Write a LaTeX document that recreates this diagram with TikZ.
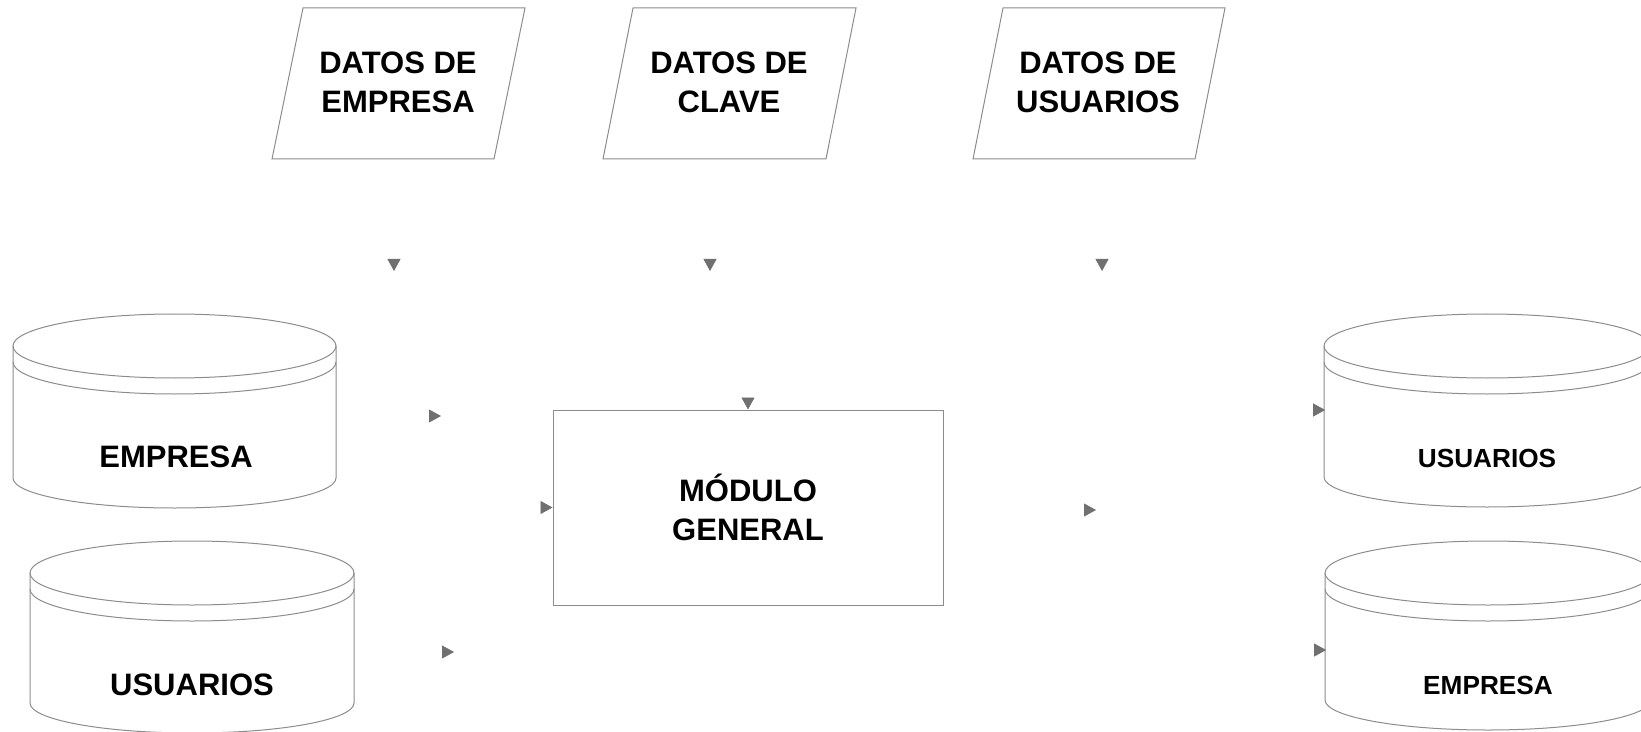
\documentclass[tikz,border=0pt]{standalone}
\usepackage{fontspec}
\setmainfont{Liberation Sans}
\usetikzlibrary{arrows.meta}
\definecolor{linegray}{HTML}{8C8C8C}
\definecolor{tipgray}{HTML}{707070}
\tikzset{
  shapeline/.style={draw=linegray, line width=0.5pt},
  bigtxt/.style={font=\fontsize{15.5}{19.5}\selectfont\bfseries, align=center, inner sep=0pt},
  smalltxt/.style={font=\fontsize{13.1}{16}\selectfont\bfseries, inner sep=0pt},
  ghost/.style={draw=white, line width=0.4pt, -{Triangle[length=6pt,width=6.5pt,color=tipgray,fill=tipgray]}},
  boxnode/.style={draw=linegray, line width=0.5pt, minimum width=195pt, minimum height=97.5pt, inner sep=0pt},
  cylnode/.style={draw=none, inner sep=0pt, minimum width=161.5pt, minimum height=97pt},
}
\newcommand{\dbcyl}[4]{%
  \draw[shapeline] ({#1+#2/2},#3) ellipse [x radius=#2/2, y radius=32];
  \draw[shapeline] (#1,#3) -- (#1,#3+16) arc[start angle=180,end angle=0,x radius=#2/2,y radius=32] -- (#1+#2,#3);
  \draw[shapeline] (#1,#3+16) -- (#1,#4) arc[start angle=180,end angle=0,x radius=#2/2,y radius=30] -- (#1+#2,#3+16);
}
\begin{document}
\begin{tikzpicture}[x=0.5pt,y=-0.5pt]
\useasboundingbox (0,0) rectangle (1641,732);

% input parallelograms
\draw[shapeline] (303,8) -- (525,8) -- (494,159) -- (272,159) -- cycle;
\node[bigtxt] (inE) at (398,82.5) {DATOS DE\\EMPRESA};
\draw[shapeline] (633,8) -- (856,8) -- (826,159) -- (603,159) -- cycle;
\node[bigtxt] (inC) at (729,82.5) {DATOS DE\\CLAVE};
\draw[shapeline] (1003,8) -- (1225,8) -- (1195,159) -- (973,159) -- cycle;
\node[bigtxt] (inU) at (1098,82.5) {DATOS DE\\USUARIOS};

% central module
\node[boxnode, bigtxt, minimum width=195pt, minimum height=97.5pt] (mod) at (748,507.5) {MÓDULO\\GENERAL};

% left cylinders
\dbcyl{13}{323}{346}{478}
\node[cylnode] (cylLE) at (174.5,410) {};
\node[bigtxt] (lblLE) at (176,457) {EMPRESA};
\dbcyl{30}{324}{573}{703}
\node[cylnode] (cylLU) at (192,637) {};
\node[bigtxt] (lblLU) at (192,685) {USUARIOS};

% right cylinders
\dbcyl{1324}{326}{346}{477}
\node[cylnode] (cylRU) at (1487,410) {};
\node[smalltxt] (lblRU) at (1487,458) {USUARIOS};
\dbcyl{1325}{326}{573}{700}
\node[cylnode] (cylRE) at (1488,635) {};
\node[smalltxt] (lblRE) at (1488,685) {EMPRESA};

% arrow ends (only the tips are visible)
\coordinate (s1) at (394,255); \coordinate (t1) at (394,271);
\coordinate (s2) at (710,255); \coordinate (t2) at (710,271);
\coordinate (s3) at (1102,255); \coordinate (t3) at (1102,271);
\coordinate (s4) at (748,392);
\coordinate (s5) at (425,416); \coordinate (t5) at (441,416);
\coordinate (s6) at (537,507.5);
\coordinate (s7) at (1080,510); \coordinate (t7) at (1096,510);
\coordinate (s8) at (438,652); \coordinate (t8) at (454,652);
\coordinate (s9) at (1308,410);
\coordinate (s10) at (1308,650);

\draw[ghost] (s1) -- (t1);
\draw[ghost] (s2) -- (t2);
\draw[ghost] (s3) -- (t3);
\draw[ghost] (s4) -- (mod.north);
\draw[ghost] (s5) -- (t5);
\draw[ghost] (s6) -- (mod.west);
\draw[ghost] (s7) -- (t7);
\draw[ghost] (s8) -- (t8);
\draw[ghost] (s9) -- (cylRU.west);
\draw[ghost] (s10) -- ([yshift=-7.5pt]cylRE.west);
\end{tikzpicture}
\end{document}
